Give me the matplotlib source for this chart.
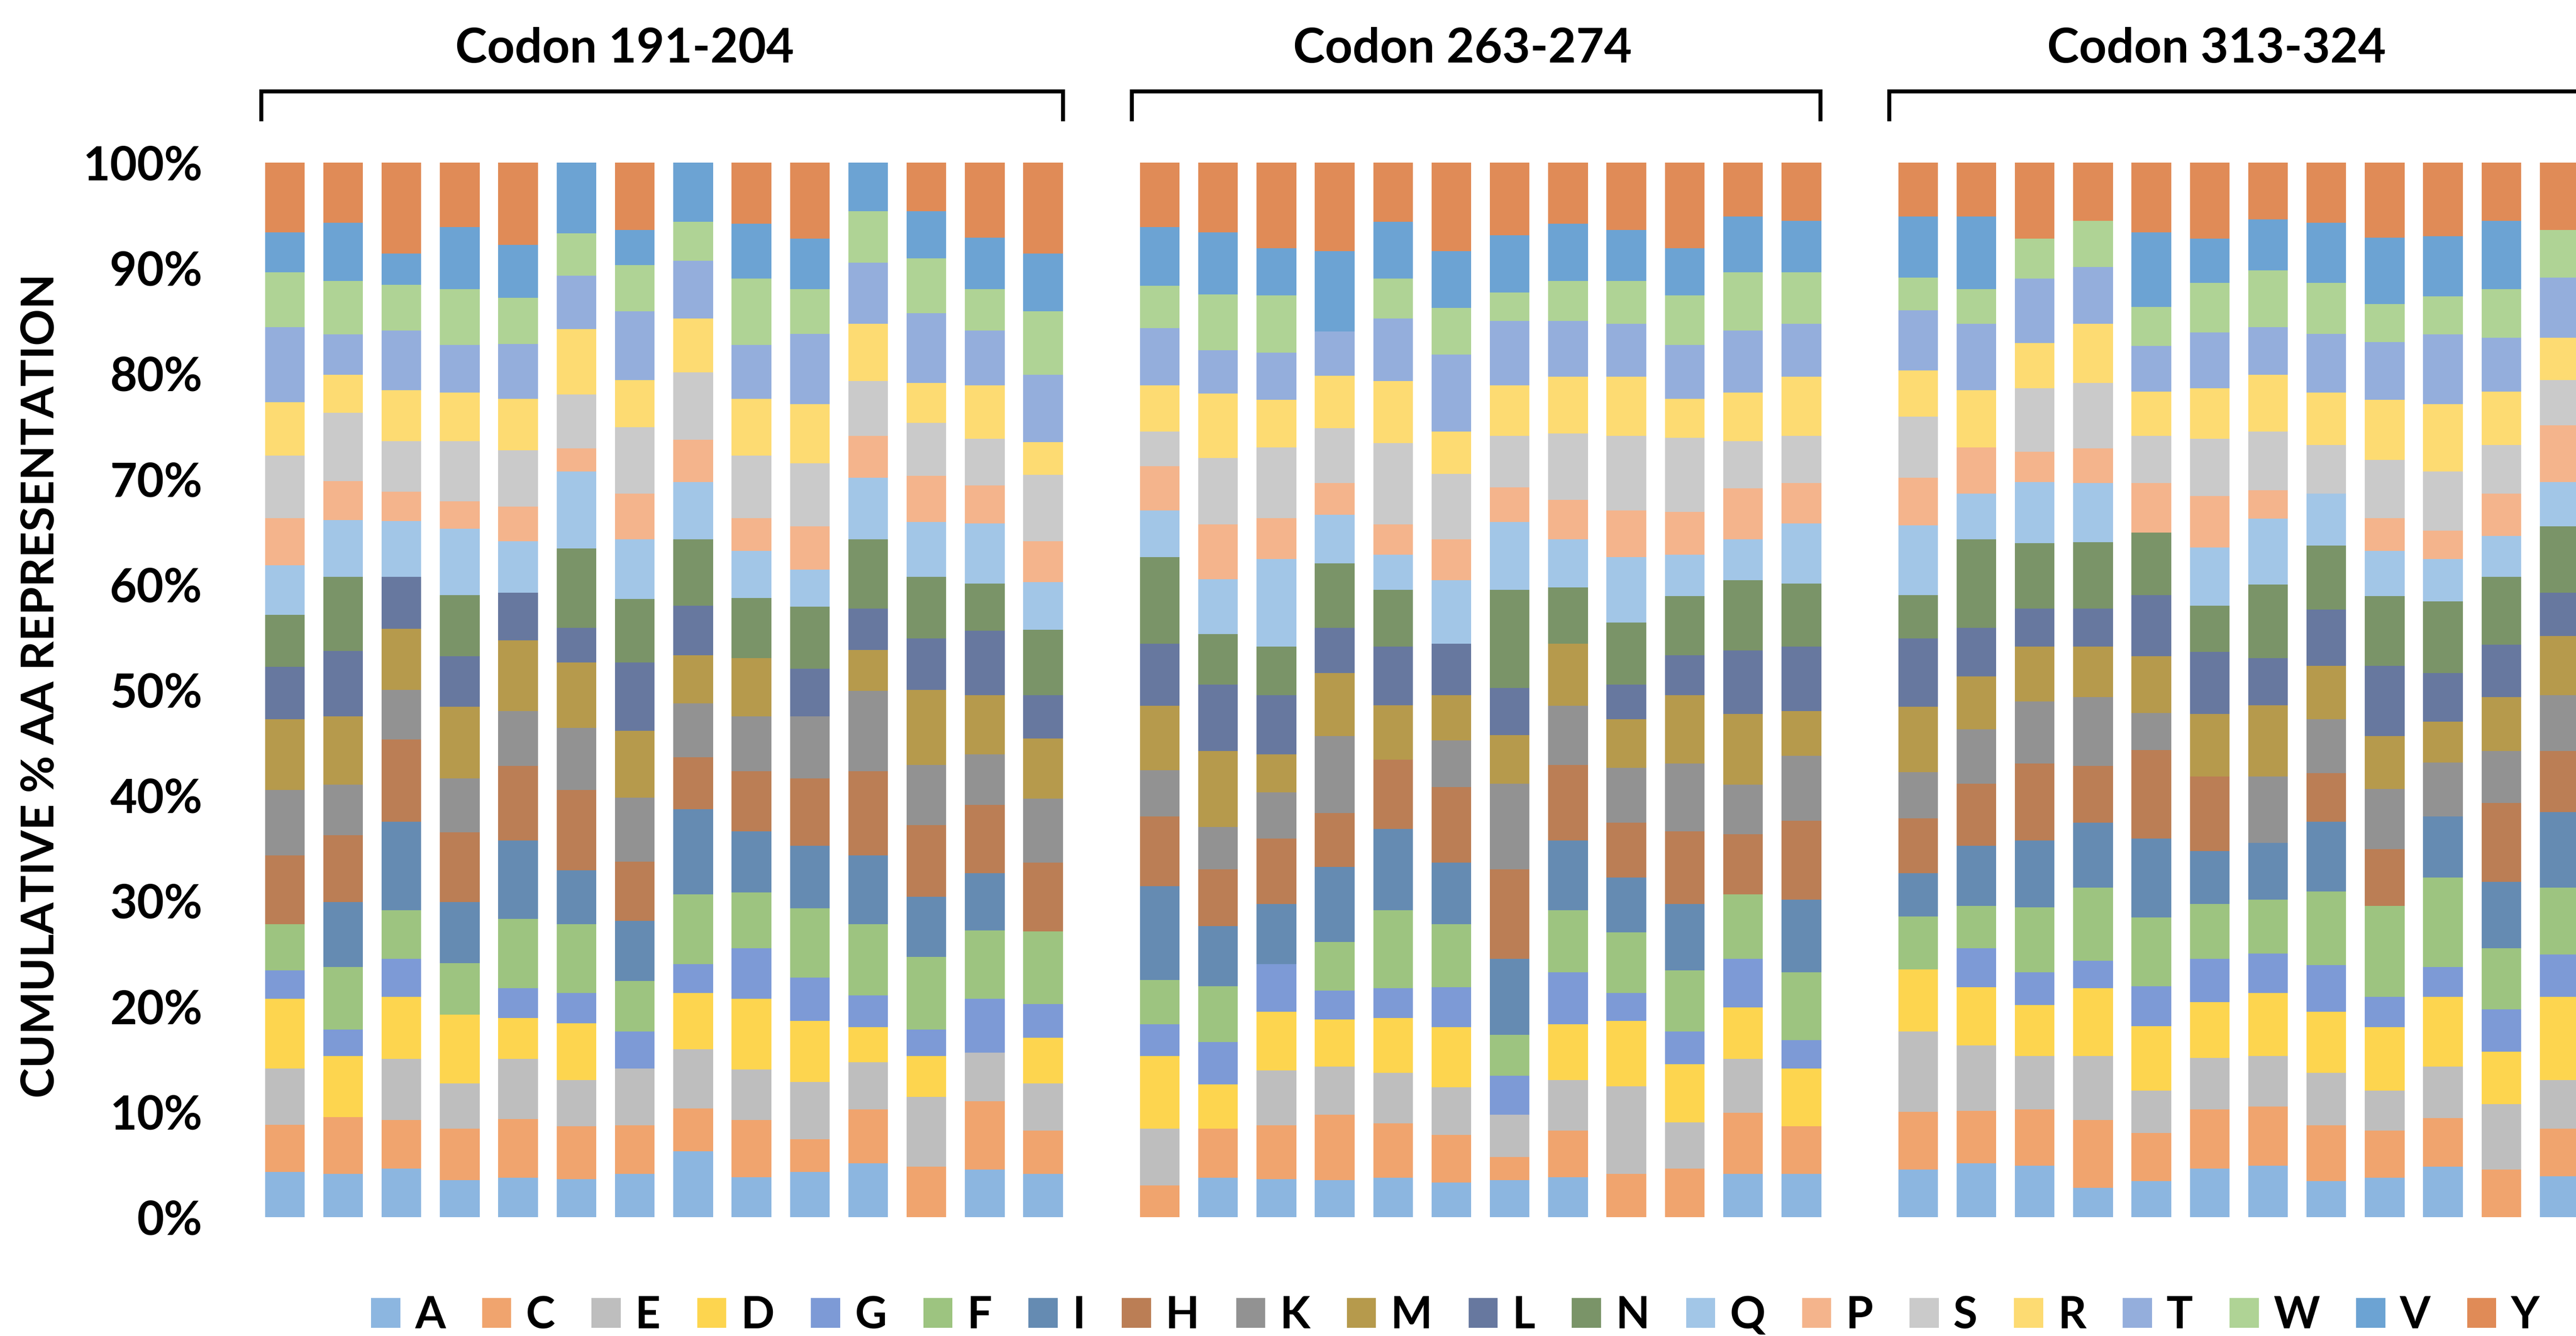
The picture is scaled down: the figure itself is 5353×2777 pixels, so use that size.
import numpy as np
import matplotlib
matplotlib.use("Agg")
import matplotlib.pyplot as plt
from matplotlib.patches import Patch

plt.rcParams['font.family'] = ['Lato', 'DejaVu Sans']
plt.rcParams['font.weight'] = 'bold'

amino_acids = ['A', 'C', 'E', 'D', 'G', 'F', 'I', 'H', 'K', 'M',
               'L', 'N', 'Q', 'P', 'S', 'R', 'T', 'W', 'V', 'Y']
colors = ['#8CB6E0', '#F0A46E', '#BEBEBE', '#FDD54F', '#7D9AD6',
          '#9DC480', '#658BB2', '#BB7E55', '#929292', '#B69A4C',
          '#67789F', '#7A9468', '#A2C6E7', '#F4B48C', '#CACACA',
          '#FDDB72', '#94AEDC', '#AFD395', '#6CA3D3', '#E08B57']

group_titles = ['Codon 191-204', 'Codon 263-274', 'Codon 313-324']

# cumulative top of each amino acid segment (%), one row per bar
g1_tops = [
    [4.3, 8.75, 14.1, 20.7, 23.4, 27.8, 27.8, 34.3, 40.5, 47.2, 52.2, 57.1, 61.8, 66.3, 72.2, 77.3, 84.4, 89.6, 93.4, 100],
    [4.1, 9.5, 9.5, 15.3, 17.8, 23.7, 29.9, 36.2, 41.0, 47.5, 53.7, 60.7, 66.1, 69.8, 76.3, 79.9, 83.7, 88.8, 94.3, 100],
    [4.6, 9.2, 15.0, 20.9, 24.5, 29.1, 37.5, 45.3, 50.0, 55.8, 60.7, 60.7, 66.0, 68.8, 73.6, 78.4, 84.1, 88.4, 91.4, 100],
    [3.5, 8.4, 12.7, 19.2, 19.2, 24.1, 29.9, 36.5, 41.6, 48.4, 53.2, 59.0, 65.3, 67.9, 73.6, 78.2, 82.7, 88.0, 93.9, 100],
    [3.75, 9.3, 15.0, 18.9, 21.7, 28.3, 35.7, 42.8, 48.0, 54.7, 59.2, 59.2, 64.1, 67.4, 72.7, 77.6, 82.8, 87.2, 92.2, 100],
    [3.6, 8.6, 13.0, 18.4, 21.25, 27.8, 32.9, 40.5, 46.4, 52.6, 55.9, 63.4, 70.7, 72.9, 78.0, 84.2, 89.3, 93.3, 100, 100],
    [4.1, 8.7, 14.1, 14.1, 17.6, 22.4, 28.1, 33.7, 39.8, 46.1, 52.6, 58.6, 64.3, 68.6, 74.9, 79.4, 85.9, 90.3, 93.6, 100],
    [6.25, 10.3, 15.9, 21.25, 24.0, 30.6, 38.7, 43.6, 48.7, 53.3, 58.0, 64.3, 69.7, 73.7, 80.1, 85.2, 90.7, 94.4, 100, 100],
    [3.8, 9.2, 14.0, 20.7, 25.5, 30.8, 36.6, 42.3, 47.5, 53.0, 53.0, 58.7, 63.2, 66.3, 72.2, 77.6, 82.7, 89.0, 94.2, 100],
    [4.3, 7.4, 12.8, 18.6, 22.7, 29.3, 35.2, 41.6, 47.5, 47.5, 52.0, 57.9, 61.4, 65.5, 71.5, 77.1, 83.75, 88.0, 92.8, 100],
    [5.1, 10.2, 14.7, 18.0, 21.05, 27.8, 34.3, 42.3, 49.9, 53.8, 57.7, 64.3, 70.1, 74.1, 79.3, 84.7, 90.5, 95.4, 100, 100],
    [0, 4.8, 11.4, 15.3, 17.8, 24.7, 30.4, 37.2, 42.9, 50.0, 54.9, 60.7, 65.9, 70.3, 75.3, 79.1, 85.7, 90.9, 95.4, 100],
    [4.5, 11.0, 15.6, 15.6, 20.7, 27.2, 32.6, 39.1, 43.9, 49.5, 55.6, 60.1, 65.8, 69.4, 73.8, 78.9, 84.1, 88.0, 92.9, 100],
    [4.1, 8.2, 12.7, 17.0, 20.2, 27.1, 27.1, 33.6, 39.7, 45.4, 49.5, 55.7, 60.2, 64.1, 70.4, 73.5, 79.9, 85.9, 91.4, 100],
]

g2_tops = [
    [0, 3.0, 8.4, 15.3, 18.3, 22.5, 31.4, 38.0, 42.4, 48.5, 54.4, 62.6, 67.0, 71.2, 74.5, 78.9, 84.3, 88.3, 93.9, 100],
    [3.75, 8.4, 8.4, 12.6, 16.6, 21.9, 27.6, 33.0, 37.0, 44.2, 50.5, 55.3, 60.5, 65.7, 72.0, 78.1, 82.2, 87.5, 93.4, 100],
    [3.6, 8.7, 13.9, 19.5, 24.0, 24.0, 29.7, 35.9, 40.3, 43.9, 49.5, 54.1, 62.4, 66.3, 73.0, 77.5, 82.0, 87.4, 91.9, 100],
    [3.5, 9.7, 14.3, 18.75, 21.5, 26.1, 33.2, 38.3, 45.6, 51.6, 55.9, 62.0, 66.6, 69.6, 74.8, 79.8, 84.0, 84.0, 91.6, 100],
    [3.75, 8.9, 13.7, 18.9, 21.7, 29.1, 36.8, 43.4, 43.4, 48.55, 54.1, 59.5, 62.8, 65.7, 73.4, 79.3, 85.2, 89.0, 94.4, 100],
    [3.3, 7.8, 12.3, 18.0, 21.8, 27.8, 33.6, 40.8, 45.2, 49.5, 54.4, 54.4, 60.4, 64.3, 70.5, 74.5, 81.8, 86.2, 91.6, 100],
    [3.5, 5.7, 9.7, 9.7, 13.4, 17.3, 24.5, 33.0, 41.1, 45.7, 50.2, 59.5, 65.9, 69.2, 74.1, 78.9, 85.0, 87.7, 93.1, 100],
    [3.8, 8.2, 13.0, 18.3, 23.2, 29.1, 35.7, 42.9, 48.5, 54.4, 54.4, 59.7, 64.3, 68.0, 74.3, 79.7, 85.0, 88.8, 94.2, 100],
    [0, 4.1, 12.4, 18.6, 21.25, 27.0, 32.2, 37.4, 42.6, 47.2, 50.5, 56.4, 62.6, 67.0, 74.1, 79.7, 84.7, 88.8, 93.6, 100],
    [0, 4.6, 9.0, 14.5, 17.6, 23.4, 29.7, 36.6, 43.0, 49.5, 53.3, 58.9, 62.8, 66.9, 73.9, 77.6, 82.7, 87.4, 91.9, 100],
    [4.1, 9.9, 15.0, 19.9, 24.5, 30.6, 30.6, 36.3, 41.0, 47.7, 53.75, 60.4, 64.3, 69.1, 73.6, 78.2, 84.1, 89.6, 94.9, 100],
    [4.1, 8.6, 8.6, 14.1, 16.8, 23.2, 30.1, 37.6, 43.75, 48.0, 54.1, 60.1, 65.8, 69.6, 74.1, 79.7, 84.7, 89.6, 94.5, 100],
]

g3_tops = [
    [4.5, 10.0, 17.6, 23.5, 23.5, 28.5, 32.6, 37.8, 42.2, 48.4, 54.9, 59.0, 65.6, 70.1, 75.9, 80.3, 86.0, 89.1, 94.9, 100],
    [5.1, 10.1, 16.3, 21.8, 25.5, 29.5, 35.2, 41.1, 46.25, 51.3, 55.9, 64.3, 68.6, 73.0, 73.0, 78.4, 84.7, 88.0, 94.9, 100],
    [4.9, 10.2, 15.3, 20.1, 23.2, 29.4, 35.7, 43.0, 48.9, 54.1, 57.7, 63.9, 69.7, 72.6, 78.6, 82.9, 89.0, 92.8, 92.8, 100],
    [2.8, 9.2, 15.3, 21.7, 24.3, 31.25, 37.4, 42.8, 49.3, 54.1, 57.7, 64.0, 69.6, 72.9, 79.1, 84.7, 90.1, 94.5, 94.5, 100],
    [3.4, 8.0, 12.0, 18.1, 21.9, 28.4, 35.9, 44.3, 47.8, 53.2, 59.0, 64.9, 64.9, 69.6, 74.1, 78.3, 82.6, 86.3, 93.4, 100],
    [4.6, 10.2, 15.1, 20.4, 24.5, 29.7, 34.7, 41.8, 41.8, 47.7, 53.6, 58.0, 63.5, 68.4, 73.8, 78.6, 83.9, 88.6, 92.8, 100],
    [4.9, 10.5, 15.3, 21.25, 25.0, 30.1, 35.5, 35.5, 41.8, 48.55, 53.0, 60.0, 66.25, 68.95, 74.5, 79.9, 84.4, 89.8, 94.6, 100],
    [3.4, 8.7, 13.7, 19.5, 23.9, 30.9, 37.5, 42.1, 47.2, 52.3, 57.6, 63.7, 68.6, 68.6, 73.2, 78.2, 83.75, 88.6, 94.3, 100],
    [3.75, 8.2, 12.0, 18.0, 20.9, 29.5, 29.5, 34.9, 40.6, 45.6, 52.3, 58.9, 63.2, 66.3, 71.8, 77.5, 83.0, 86.6, 92.9, 100],
    [4.8, 9.4, 14.3, 20.9, 23.7, 32.2, 38.0, 38.0, 43.1, 47.0, 51.6, 58.4, 62.4, 65.1, 70.7, 77.1, 83.7, 87.3, 93.0, 100],
    [0, 4.5, 10.7, 15.7, 19.7, 25.5, 31.8, 39.3, 44.2, 49.3, 54.3, 60.7, 64.6, 68.6, 73.2, 78.3, 83.4, 88.0, 94.5, 100],
    [3.9, 8.4, 13.0, 20.9, 24.9, 31.25, 38.4, 44.2, 49.5, 55.1, 59.2, 65.5, 69.7, 75.1, 79.4, 83.4, 89.1, 93.6, 93.6, 100],
]

groups = [g1_tops, g2_tops, g3_tops]

W, H = 5353, 2777
fig = plt.figure(figsize=(W / 100, H / 100), dpi=100)
ax = fig.add_axes([450 / W, 1 - 2530 / H, (W - 450) / W, (2530 - 338) / H])

# bar slots: one empty slot between groups
positions = []
start = 0
for g in groups:
    positions.append(np.arange(start, start + len(g)))
    start += len(g) + 1

for pos, tops in zip(positions, groups):
    tops = np.array(tops)
    bottoms = np.hstack([np.zeros((len(tops), 1)), tops[:, :-1]])
    heights = tops - bottoms
    for k in range(len(amino_acids)):
        ax.bar(pos, heights[:, k], bottom=bottoms[:, k], width=0.68,
               color=colors[k], linewidth=0)

ax.set_xlim(-1.17, 39.28)
ax.set_ylim(0, 100)
ax.set_yticks(range(0, 101, 10))
ax.set_yticklabels([f'{v}%' for v in range(0, 101, 10)], fontsize=70, fontweight='bold')
ax.set_xticks([])
ax.tick_params(axis='y', length=0, pad=21)
for s in ax.spines.values():
    s.set_visible(False)

# brackets and group titles above the bars
trans = ax.get_xaxis_transform()
bracket_ends = [(-0.40, 13.34), (14.52, 26.33), (27.51, 39.6)]
title_x = [5.83, 20.19, 33.12]
for (l, r), tx, title in zip(bracket_ends, title_x, group_titles):
    ax.plot([l, l, r, r], [1.041, 1.0675, 1.0675, 1.041], transform=trans,
            clip_on=False, color='black', lw=6, solid_joinstyle='miter')
    ax.text(tx, 1.1077, title, transform=trans, ha='center', va='center',
            fontsize=72, fontweight='bold')

fig.text(85 / W, 1 - 1425 / H, 'CUMULATIVE % AA REPRESENTATION', rotation=90,
         ha='center', va='center', fontsize=68, fontweight='bold')

handles = [Patch(facecolor=c, edgecolor='none') for c in colors]
fig.legend(handles, amino_acids, loc='center', bbox_to_anchor=(3024 / W, 42 / H),
           ncol=20, frameon=False, prop={'size': 66, 'weight': 'bold'},
           handlelength=0.66, handleheight=0.66, handletextpad=0.33,
           columnspacing=0.83, borderpad=0, borderaxespad=0)

fig.savefig('out.png', dpi=100, facecolor='white')
